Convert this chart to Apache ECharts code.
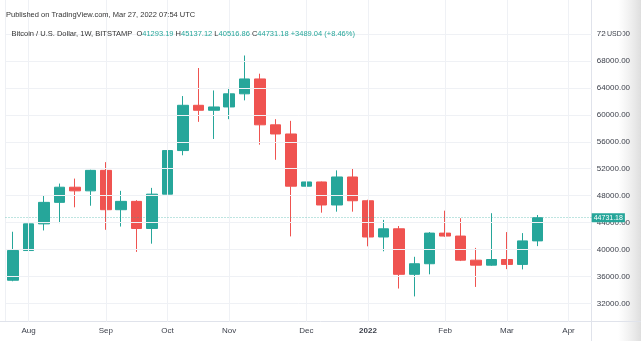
<!DOCTYPE html>
<html><head><meta charset="utf-8">
<script src="https://cdn.jsdelivr.net/npm/echarts@6/dist/echarts.min.js"></script>
<style>html,body{margin:0;padding:0;background:#fff}#c{width:641px;height:341px}</style>
</head><body><div id="c"></div>
<script>
const weeks = ['2021-07-26','2021-08-02','2021-08-09','2021-08-16','2021-08-23','2021-08-30','2021-09-06','2021-09-13','2021-09-20','2021-09-27','2021-10-04','2021-10-11','2021-10-18','2021-10-25','2021-11-01','2021-11-08','2021-11-15','2021-11-22','2021-11-29','2021-12-06','2021-12-13','2021-12-20','2021-12-27','2022-01-03','2022-01-10','2022-01-17','2022-01-24','2022-01-31','2022-02-07','2022-02-14','2022-02-21','2022-02-28','2022-03-07','2022-03-14','2022-03-21','2022-03-28','2022-04-04','2022-04-11'];
const opens  = [35450,39860,43820,47010,49260,48720,51760,45920,47160,43130,48230,54700,61420,60680,61170,63120,65330,58520,57160,49410,50040,46620,50780,47250,41870,43090,36330,37900,42450,42010,38430,37690,38530,37800,41293.19];
const closes = [39860,43820,47010,49260,48720,51760,45920,47160,43130,48230,54700,61420,60680,61170,63120,65330,58520,57160,49410,50040,46620,50780,47250,41870,43090,36330,37900,42450,42010,38430,37690,38530,37800,41293.19,44731.18];
const lows   = [35300,37400,42840,43930,46280,46510,42940,43420,39660,40880,46860,54000,58960,56420,59360,62150,55580,53330,41960,46870,45480,45630,45630,40490,39750,34220,33050,36330,41900,38300,34460,37600,37100,37060,40516.86];
const highs  = [42650,45300,48090,49800,50540,51850,52980,48720,47330,49160,56510,62790,66950,63620,64000,68810,66110,59360,59110,52010,50100,51760,52100,47400,44410,43500,38930,42600,45780,44660,40250,45400,42600,42450,45137.12];
const tickIndex  = [1,6,10,14,19,23,28,32,36];
const tickLabels = ['Aug','Sep','Oct','Nov','Dec','2022','Feb','Mar','Apr'];
const yTicks = [32000,36000,40000,44000,48000,52000,56000,60000,64000,68000,72000];
const lastClose = 44731.18;
const headerValues = {O:'41293.19', H:'45137.12', L:'40516.86', C:'44731.18', chg:'+3489.04 (+8.46%)'};

const UP = '#26a69a', DOWN = '#ef5350', GRID = '#eff1f5', TXT = '#3b3f4a';
const FONT = '"Liberation Sans", Arial, sans-serif';

const candleData = weeks.map((w, i) => i < opens.length ? [opens[i], closes[i], lows[i], highs[i]] : '-');

const chart = echarts.init(document.getElementById('c'), null, {renderer: 'canvas'});
chart.setOption({
  animation: false,
  backgroundColor: '#ffffff',
  grid: {left: 5.5, right: 49.3, top: 0, bottom: 19.3},
  xAxis: {
    type: 'category', data: weeks, boundaryGap: true,
    axisLine: {show: false}, axisTick: {show: false}, splitLine: {show: false},
    axisLabel: {
      interval: (i) => tickIndex.includes(i),
      formatter: (v, i) => {
        const k = tickIndex.indexOf(i);
        if (k < 0) return '';
        return tickLabels[k] === '2022' ? '{b|2022}' : tickLabels[k];
      },
      fontSize: 8, color: TXT, fontFamily: FONT, margin: 5,
      rich: {b: {fontWeight: 'bold', fontSize: 8, color: TXT, fontFamily: FONT}}
    }
  },
  yAxis: {
    type: 'value', position: 'right', min: 29299, max: 77046, scale: true,
    axisLine: {show: false}, axisTick: {show: false, customValues: yTicks}, splitLine: {show: false},
    axisLabel: {customValues: yTicks, formatter: (v) => v.toFixed(2), fontSize: 8, color: TXT, fontFamily: FONT, margin: 5}
  },
  graphic: [
    {type: 'rect', z: -10, shape: {x: 618, y: 0, width: 23, height: 341},
     style: {fill: new echarts.graphic.LinearGradient(0, 0, 1, 0, [{offset: 0, color: 'rgba(230,230,230,0)'}, {offset: 1, color: 'rgba(222,222,222,1)'}])}},
    {type: 'line', z: 5, shape: {x1: 591.5, y1: 0, x2: 591.5, y2: 341}, style: {stroke: '#e0e3eb', lineWidth: 1}},
    {type: 'line', z: 5, shape: {x1: 0, y1: 321.5, x2: 641, y2: 321.5}, style: {stroke: '#e0e3eb', lineWidth: 1}},
    {type: 'line', z: 5, shape: {x1: 5.5, y1: 0, x2: 5.5, y2: 321}, style: {stroke: '#eef0f4', lineWidth: 1}},
    {type: 'text', z: 20, left: 606, top: 29.5,
     style: {text: 'USD', fontSize: 7, fill: TXT, fontFamily: FONT, backgroundColor: '#ffffff', padding: [1, 1]}},
    {type: 'text', z: 20, left: 6, top: 11,
     style: {text: 'Published on TradingView.com, Mar 27, 2022 07:54 UTC', fontSize: 7.5, fill: '#333333', fontFamily: FONT}},
    {type: 'text', z: 20, left: 11.5, top: 30,
     style: {
       text: '{d|Bitcoin / U.S. Dollar, 1W, BITSTAMP  O}{g|' + headerValues.O + '} {d|H}{g|' + headerValues.H + '} {d|L}{g|' + headerValues.L + '} {d|C}{g|' + headerValues.C + '} {g|' + headerValues.chg + '}',
       fontSize: 7.5, fontFamily: FONT,
       rich: {d: {fill: '#333333', fontSize: 7.5, fontFamily: FONT}, g: {fill: UP, fontSize: 7.5, fontFamily: FONT}}
     }}
  ],
  series: [
    {
      type: 'line', data: [], z: 0, silent: true,
      markLine: {
        silent: true, symbol: ['none', 'none'], animation: false,
        label: {show: false},
        lineStyle: {color: GRID, width: 1, type: 'solid'},
        data: yTicks.map(v => ({yAxis: v})).concat(tickIndex.map(i => ({xAxis: weeks[i]})))
      }
    },
    {
      type: 'candlestick', data: candleData, barWidth: 11, z: 3,
      itemStyle: {color: UP, color0: DOWN, borderColor: UP, borderColor0: DOWN, borderWidth: 1},
      markLine: {
        silent: true, symbol: ['none', 'none'], animation: false,
        data: [{
          yAxis: lastClose,
          lineStyle: {color: 'rgba(38,166,154,0.6)', width: 1, type: [1, 2]},
          label: {show: true, position: 'end', distance: 0, formatter: () => lastClose.toFixed(2),
                  backgroundColor: UP, color: '#ffffff', fontSize: 7, fontFamily: FONT, padding: [1, 2, 1, 2]}
        }]
      }
    }
  ]
});
</script>
</body></html>
